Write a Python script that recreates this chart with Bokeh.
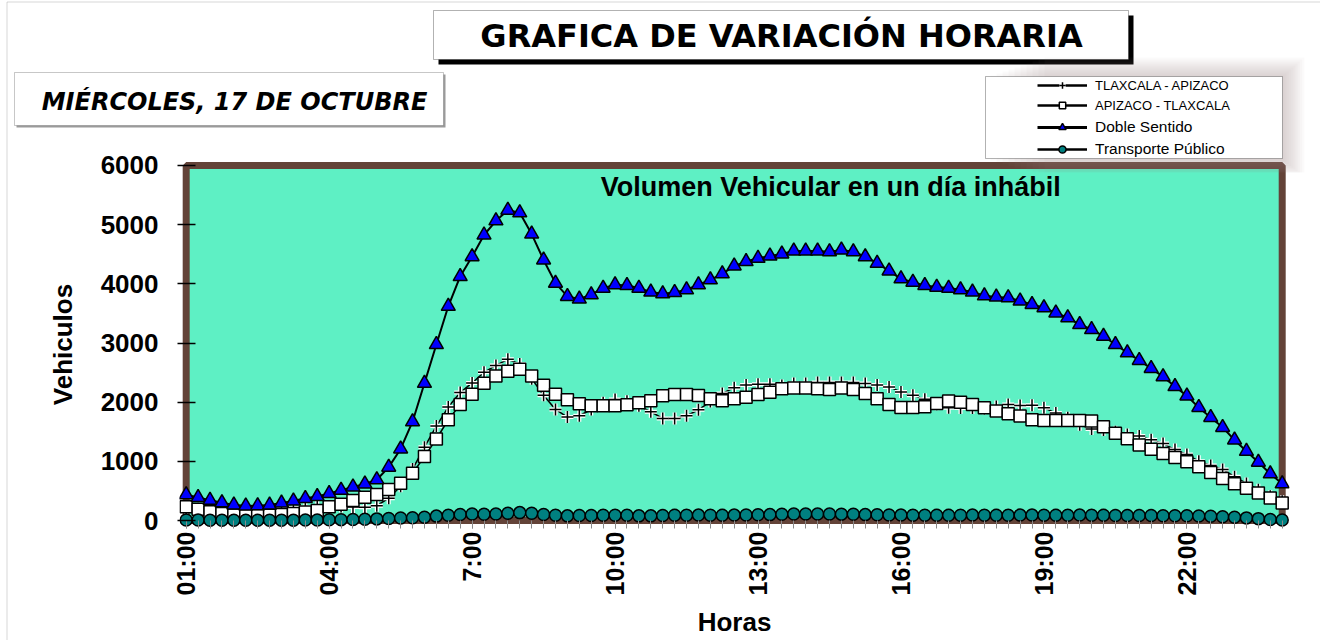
from bokeh.plotting import figure
from bokeh.models import (Range1d, FixedTicker, BoxAnnotation, Label, Legend,
                          LegendItem, ColumnDataSource, GridBox, Column)
from bokeh.embed import file_html
from bokeh.resources import INLINE

# ---------------- data (15-minute intervals, 01:00 .. 24:00) ----------------
doble_sentido = [437, 390, 342, 303, 265, 247, 252, 263, 297, 331, 375, 405,
                 457, 513, 569, 619, 690, 902, 1210, 1670, 2320, 2975, 3620, 4124,
                 4460, 4825, 5065, 5245, 5200, 4841, 4404, 4012, 3788, 3743, 3816, 3928,
                 3984, 3973, 3928, 3861, 3833, 3855, 3900, 3984, 4068, 4169, 4303, 4376,
                 4432, 4471, 4505, 4556, 4556, 4556, 4544, 4573, 4544, 4460, 4348, 4219,
                 4085, 4029, 3973, 3945, 3928, 3900, 3861, 3799, 3777, 3766, 3710, 3653,
                 3597, 3508, 3429, 3312, 3228, 3115, 2975, 2836, 2706, 2572, 2432, 2264,
                 2107, 1911, 1743, 1575, 1362, 1171, 986, 790, 622]
apizaco_tlaxcala = [232, 190, 150, 120, 95, 85, 85, 90, 100, 120, 145, 170,
                    235, 275, 340, 395, 440, 525, 632, 800, 1081, 1378, 1703, 1961,
                    2135, 2320, 2443, 2521, 2555, 2443, 2286, 2135, 2040, 1972, 1939, 1939,
                    1939, 1956, 1989, 2023, 2107, 2129, 2129, 2113, 2057, 2023, 2057, 2085,
                    2129, 2169, 2225, 2241, 2241, 2225, 2213, 2241, 2213, 2146, 2057, 1961,
                    1911, 1911, 1922, 1978, 2020, 2000, 1961, 1905, 1849, 1804, 1765, 1703,
                    1692, 1692, 1692, 1692, 1681, 1586, 1474, 1384, 1278, 1205, 1132, 1065,
                    992, 908, 812, 712, 622, 544, 465, 381, 297]
tlaxcala_apizaco = [205, 200, 192, 183, 170, 162, 167, 173, 197, 211, 230, 235,
                    222, 238, 229, 224, 250, 377, 578, 870, 1239, 1597, 1917, 2163,
                    2325, 2505, 2622, 2724, 2645, 2398, 2118, 1877, 1748, 1771, 1877, 1989,
                    2045, 2017, 1939, 1838, 1726, 1726, 1771, 1871, 2011, 2146, 2246, 2291,
                    2303, 2302, 2280, 2315, 2315, 2331, 2331, 2332, 2331, 2314, 2291, 2258,
                    2174, 2118, 2051, 1967, 1908, 1900, 1900, 1894, 1928, 1962, 1945, 1950,
                    1905, 1816, 1737, 1620, 1547, 1529, 1501, 1452, 1428, 1367, 1300, 1199,
                    1115, 1003, 931, 863, 740, 627, 521, 409, 325]
transporte_publico = [10, 8, 6, 5, 5, 5, 5, 5, 5, 6, 8, 10,
                      12, 15, 18, 22, 28, 35, 42, 48, 55, 75, 90, 101,
                      112, 106, 112, 123, 134, 123, 101, 90, 79, 84, 84, 90,
                      90, 90, 79, 79, 85, 88, 90, 92, 90, 88, 92, 95,
                      98, 100, 105, 110, 112, 112, 110, 108, 105, 100, 98, 95,
                      92, 90, 90, 88, 88, 90, 92, 90, 88, 90, 92, 92,
                      90, 88, 90, 92, 90, 88, 86, 85, 85, 84, 82, 80,
                      80, 78, 72, 65, 55, 45, 32, 18, 8]
tick_positions = [0, 12, 24, 36, 48, 60, 72, 84]
tick_labels = ["01:00", "04:00", "7:00", "10:00", "13:00", "16:00", "19:00", "22:00"]
y_ticks = [0, 1000, 2000, 3000, 4000, 5000, 6000]
series_names = ["TLAXCALA - APIZACO", "APIZACO - TLAXCALA", "Doble Sentido", "Transporte Público"]
titulo = "GRAFICA DE VARIACIÓN HORARIA"
fecha = "MIÉRCOLES, 17 DE OCTUBRE"
subtitulo = "Volumen Vehicular en un día  inhábil"

n = len(doble_sentido)
intervalo = list(range(n))

src = ColumnDataSource(dict(x=intervalo, t=tlaxcala_apizaco, s=apizaco_tlaxcala,
                            d=doble_sentido, c=transporte_publico))

W, H = 1320, 640
MINT = "#5EF0C4"
BROWN = "#634338"
FONT = "Liberation Sans"

# ======================= main chart =======================
p = figure(width=W, height=H, output_backend="svg", toolbar_location=None,
           x_range=Range1d(-0.562, 92.613), y_range=Range1d(-117.6, 6067.2),
           min_border_left=179, min_border_right=31, min_border_top=161,
           min_border_bottom=111)
p.background_fill_color = "white"
p.border_fill_color = "white"
p.outline_line_color = None
p.grid.visible = False

p.add_layout(BoxAnnotation(left=0, right=n - 1, bottom=0, top=6000,
                           fill_color=MINT, fill_alpha=1.0,
                           line_color=BROWN, line_width=7, line_alpha=1.0,
                           level="underlay"))

p.yaxis.ticker = FixedTicker(ticks=y_ticks)
p.yaxis.axis_line_color = None
p.yaxis.major_tick_in = 16
p.yaxis.major_tick_out = 2
p.yaxis.major_tick_line_color = "black"
p.yaxis.major_tick_line_width = 1.5
p.yaxis.minor_tick_line_color = None
p.yaxis.major_label_text_font = FONT
p.yaxis.major_label_text_font_style = "bold"
p.yaxis.major_label_text_font_size = "26px"
p.yaxis.major_label_text_color = "black"
p.yaxis.major_label_standoff = 19
p.yaxis.axis_label = "Vehiculos"
p.yaxis.axis_label_text_font = FONT
p.yaxis.axis_label_text_font_style = "bold"
p.yaxis.axis_label_text_font_size = "26px"
p.yaxis.axis_label_text_color = "black"
p.yaxis.axis_label_standoff = 20

p.xaxis.ticker = FixedTicker(ticks=tick_positions, minor_ticks=intervalo)
p.xaxis.major_label_overrides = {k: v for k, v in zip(tick_positions, tick_labels)}
p.xaxis.major_label_orientation = 3.14159265 / 2
p.xaxis.axis_line_color = None
p.xaxis.major_tick_in = 7
p.xaxis.major_tick_out = 1
p.xaxis.minor_tick_in = 7
p.xaxis.minor_tick_out = 1
p.xaxis.major_tick_line_color = "#8a8a8a"
p.xaxis.minor_tick_line_color = "#8a8a8a"
p.xaxis.major_label_text_font = FONT
p.xaxis.major_label_text_font_style = "bold"
p.xaxis.major_label_text_font_size = "25px"
p.xaxis.major_label_text_color = "black"
p.xaxis.major_label_standoff = 3
p.xaxis.axis_label = "Horas"
p.xaxis.axis_label_text_font = FONT
p.xaxis.axis_label_text_font_style = "bold"
p.xaxis.axis_label_text_font_size = "26px"
p.xaxis.axis_label_text_color = "black"
p.xaxis.axis_label_standoff = 9


def draw_series(fig, source, xcol, lw=1.5):
    r = {}
    r["lt"] = fig.line(xcol, 't', source=source, line_color="black", line_width=lw)
    r["ht"] = fig.scatter(xcol, 't', source=source, marker="cross", size=12,
                          line_color="white", line_width=4)
    r["ct"] = fig.scatter(xcol, 't', source=source, marker="cross", size=12,
                          line_color="black", line_width=1.5)
    r["ls"] = fig.line(xcol, 's', source=source, line_color="black", line_width=lw)
    r["cs"] = fig.scatter(xcol, 's', source=source, marker="square", size=12,
                          fill_color="white", line_color="black", line_width=1.5)
    r["ld"] = fig.line(xcol, 'd', source=source, line_color="black", line_width=lw + 0.5)
    r["cd"] = fig.scatter(xcol, 'd', source=source, marker="triangle", size=14,
                          fill_color="#0000FF", line_color="black", line_width=1.5)
    r["lc"] = fig.line(xcol, 'c', source=source, line_color="black", line_width=lw)
    r["cc"] = fig.scatter(xcol, 'c', source=source, marker="circle", size=12,
                          fill_color="#008080", line_color="black", line_width=1.5)
    return r


draw_series(p, src, 'x')

p.add_layout(Label(x=834 - 179, y=529 - 188, x_units="screen", y_units="screen",
                   text=subtitulo, text_align="center", text_baseline="middle",
                   text_font=FONT, text_font_style="bold", text_font_size="27px",
                   text_color="black"))

# ======================= overlay (page decorations) =======================
o = figure(width=W, height=H, output_backend="svg", toolbar_location=None,
           x_range=Range1d(0, W), y_range=Range1d(H, 0),
           x_axis_type=None, y_axis_type=None,
           min_border_left=0, min_border_right=0, min_border_top=0, min_border_bottom=0)
o.background_fill_alpha = 0
o.border_fill_alpha = 0
o.outline_line_color = None
o.grid.visible = False


def box(left, right, top, bottom, **kw):
    o.add_layout(BoxAnnotation(left=left, right=right, top=top, bottom=bottom, **kw))


# page border
box(6.5, 5000, 1.5, 5000, fill_alpha=0, line_color="#7a7a7a", line_width=1)

# title with drop shadow
box(438, 1133, 15, 64, fill_color="black", fill_alpha=1, line_color=None)
box(433, 1128, 10, 59, fill_color="white", fill_alpha=1, line_color="black", line_width=1)
o.add_layout(Label(x=781, y=35.5, text=titulo, text_align="center", text_baseline="middle",
                   text_font="DejaVu Sans", text_font_style="bold", text_font_size="32px",
                   text_color="black"))

# date box
box(16, 445, 74, 127, fill_color="#9a9a9a", fill_alpha=1, line_color=None)
box(14, 443, 72, 125, fill_color="white", fill_alpha=1, line_color="#444444", line_width=1)
o.add_layout(Label(x=234, y=101, text=fecha, text_align="center", text_baseline="middle",
                   text_font="DejaVu Sans", text_font_style="bold italic",
                   text_font_size="24px", text_color="black"))

# soft legend glow + legend box
for k in range(10):
    box(990 + 6 * k, 1282 + 2 + 2.2 * k, 76 - 1 - 2 * k, min(158 + 2 + 1.8 * k, 172),
        fill_color="#a58a80", fill_alpha=0.045, line_color=None)
box(985, 1282, 76, 158, fill_color="white", fill_alpha=1, line_color="black", line_width=1)

# legend (sample glyphs styled like the chart series, placed off-canvas)
dummy = ColumnDataSource(dict(x=[-100], t=[-100], s=[-100], d=[-100], c=[-100]))
rr = draw_series(o, dummy, 'x', lw=2.5)
leg1 = Legend(items=[LegendItem(label=series_names[0], renderers=[rr["lt"], rr["ht"], rr["ct"]]),
                     LegendItem(label=series_names[1], renderers=[rr["ls"], rr["cs"]])],
              location=(1037, H - 113), orientation="vertical",
              glyph_width=50, glyph_height=16, label_height=16, spacing=4,
              padding=0, margin=0, label_standoff=8,
              border_line_color=None, background_fill_alpha=0,
              label_text_font=FONT, label_text_font_size="13px", label_text_color="black")
leg2 = Legend(items=[LegendItem(label=series_names[2], renderers=[rr["ld"], rr["cd"]]),
                     LegendItem(label=series_names[3], renderers=[rr["lc"], rr["cc"]])],
              location=(1037, H - 157.7), orientation="vertical",
              glyph_width=50, glyph_height=18, label_height=18, spacing=4,
              padding=0, margin=0, label_standoff=8,
              border_line_color=None, background_fill_alpha=0,
              label_text_font=FONT, label_text_font_size="15.5px", label_text_color="black")
o.add_layout(leg1)
o.add_layout(leg2)

layout = GridBox(children=[(p, 0, 0), (Column(children=[o]), 0, 0)])

open("out.html", "w").write(file_html(layout, INLINE))
